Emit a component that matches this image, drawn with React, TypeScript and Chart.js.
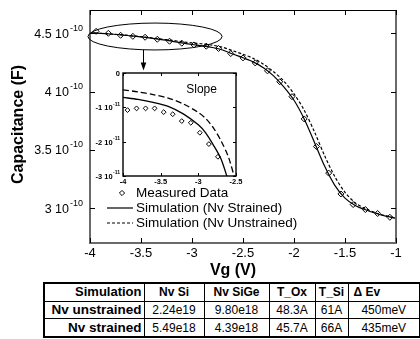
import React, { useEffect, useRef } from "react";
import { Chart, registerables } from "chart.js";

Chart.register(...registerables);

const FONT = "'Liberation Sans', Arial, Helvetica, sans-serif";

// ---------- Main chart data (capacitance in units of 1e-10 F) ----------
const measuredVg = [-3.94, -3.82, -3.7, -3.58, -3.46, -3.34, -3.22, -3.1, -2.98, -2.86, -2.74, -2.62, -2.5, -2.38, -2.26, -2.14, -2.02, -1.9, -1.78, -1.66, -1.54, -1.42, -1.3, -1.18, -1.06];
const measuredC = [4.517, 4.5, 4.483, 4.474, 4.466, 4.449, 4.432, 4.415, 4.4, 4.389, 4.37, 4.326, 4.289, 4.246, 4.178, 4.084, 3.956, 3.765, 3.528, 3.3, 3.121, 3.03, 2.987, 2.953, 2.921];

const simVg = [-4.0, -3.9, -3.8, -3.7, -3.6, -3.5, -3.4, -3.3, -3.2, -3.1, -3.0, -2.9, -2.8, -2.7, -2.6, -2.5, -2.4, -2.3, -2.2, -2.1, -2.0, -1.9, -1.8, -1.7, -1.6, -1.5, -1.4, -1.3, -1.2, -1.1, -1.0];
const strainedC = [4.505, 4.5, 4.494, 4.487, 4.478, 4.469, 4.458, 4.446, 4.433, 4.418, 4.404, 4.392, 4.378, 4.357, 4.322, 4.29, 4.255, 4.205, 4.135, 4.04, 3.925, 3.765, 3.565, 3.36, 3.195, 3.085, 3.022, 2.985, 2.955, 2.93, 2.912];
const unstrainedC = [4.505, 4.5, 4.494, 4.488, 4.479, 4.471, 4.461, 4.45, 4.44, 4.428, 4.418, 4.41, 4.398, 4.38, 4.35, 4.32, 4.285, 4.235, 4.17, 4.09, 3.98, 3.84, 3.655, 3.45, 3.27, 3.135, 3.045, 2.995, 2.96, 2.933, 2.913];

const xTicks = [-4, -3.5, -3, -2.5, -2, -1.5, -1];
const xTickLabels = ["-4", "-3.5", "-3", "-2.5", "-2", "-1.5", "-1"];
const yTicks = [3, 3.5, 4, 4.5];
const yTickBase = ["3 10", "3.5 10", "4 10", "4.5 10"];
const yTickExp = "-10";

const legendLabels = ["Measured Data", "Simulation (Nv Strained)", "Simulation (Nv Unstrained)"];

// ellipse annotation (data coords) + arrow
const ellipseVg = [-4.02, -2.705];
const ellipseC = [4.357, 4.588];
const arrowVg = -3.48;
const arrowC = [4.357, 4.18];

// ---------- Inset (slope, units of 1e-11) ----------
const insetMeasVg = [-3.94, -3.82, -3.7, -3.58, -3.46, -3.34, -3.22, -3.1, -2.98, -2.86, -2.74];
const insetMeasSlope = [-1.08, -1.03, -1.03, -1.03, -1.14, -1.2, -1.4, -1.45, -1.74, -2.07, -2.44];
const insetStrainedVg = [-4.0, -3.8, -3.6, -3.4, -3.2, -3.0, -2.9, -2.8, -2.7, -2.6];
const insetStrained = [-0.71, -0.77, -0.855, -0.97, -1.19, -1.51, -1.75, -2.1, -2.5, -3.15];
const insetUnstrainedVg = [-4.0, -3.8, -3.6, -3.4, -3.2, -3.0, -2.9, -2.8, -2.7, -2.6, -2.5];
const insetUnstrained = [-0.49, -0.55, -0.63, -0.73, -0.9, -1.15, -1.33, -1.6, -1.97, -2.45, -3.2];

const insetXTicks = [-4, -3.5, -3, -2.5];
const insetXTickLabels = ["-4", "-3.5", "-3", "-2.5"];
const insetYTicks = [0, -1, -2, -3];
const insetYTickBase = ["0", "-1 10", "-2 10", "-3 10"];
const insetYTickExp = ["", "-11", "-11", "-11"];
const insetTitle = "Slope";

// ---------- Table ----------
const tableHeader = ["Simulation", "Nv Si", "Nv SiGe", "T_Ox", "T_Si", "\u0394 Ev"];
const tableRows = [
  ["Nv unstrained", "2.24e19", "9.80e18", "48.3A", "61A", "450meV"],
  ["Nv strained", "5.49e18", "4.39e18", "45.7A", "66A", "435meV"],
];
const tableColWidths = [100, 60, 65, 46, 33, 72];

function line(ctx: CanvasRenderingContext2D, x1: number, y1: number, x2: number, y2: number) {
  ctx.beginPath();
  ctx.moveTo(x1, y1);
  ctx.lineTo(x2, y2);
  ctx.stroke();
}

function drawDiamond(ctx: CanvasRenderingContext2D, x: number, y: number, r: number) {
  ctx.beginPath();
  ctx.moveTo(x, y - r);
  ctx.lineTo(x + r, y);
  ctx.lineTo(x, y + r);
  ctx.lineTo(x - r, y);
  ctx.closePath();
  ctx.stroke();
}

const mainPlugin = {
  id: "mainDecor",
  afterDraw(chart: any) {
    const ctx: CanvasRenderingContext2D = chart.ctx;
    const xs = chart.scales.x;
    const ys = chart.scales.y;
    const { left, right, top, bottom } = chart.chartArea;
    ctx.save();
    // frame
    ctx.strokeStyle = "#6a6a6a";
    ctx.lineWidth = 2;
    ctx.beginPath();
    ctx.moveTo(left, top);
    ctx.lineTo(left, bottom);
    ctx.lineTo(right, bottom);
    ctx.lineTo(right, top);
    ctx.stroke();
    ctx.strokeStyle = "#000";
    ctx.lineWidth = 1;
    line(ctx, left, top + 0.5, right, top + 0.5);
    // ticks (inward)
    ctx.strokeStyle = "#000";
    ctx.lineWidth = 1;
    xTicks.forEach((v) => {
      const px = Math.round(xs.getPixelForValue(v)) + 0.5;
      line(ctx, px, bottom, px, bottom - 5);
      line(ctx, px, top, px, top + 5);
    });
    yTicks.forEach((v) => {
      const py = Math.round(ys.getPixelForValue(v)) + 0.5;
      line(ctx, left, py, left + 5, py);
      line(ctx, right, py, right - 5, py);
    });
    // x tick labels
    ctx.fillStyle = "#000";
    ctx.font = `13px ${FONT}`;
    ctx.textAlign = "center";
    ctx.textBaseline = "middle";
    xTicks.forEach((v, i) => {
      ctx.fillText(xTickLabels[i], xs.getPixelForValue(v), bottom + 10);
    });
    // y tick labels with superscript
    yTicks.forEach((v, i) => {
      const py = ys.getPixelForValue(v);
      const xr = left - 7;
      ctx.font = `9px ${FONT}`;
      ctx.textAlign = "right";
      ctx.textBaseline = "middle";
      const ew = ctx.measureText(yTickExp).width;
      ctx.fillText(yTickExp, xr, py - 5);
      ctx.font = `12.5px ${FONT}`;
      ctx.fillText(yTickBase[i], xr - ew - 1, py + 1);
    });
    // axis titles
    ctx.font = `bold 16px ${FONT}`;
    ctx.textAlign = "center";
    ctx.textBaseline = "middle";
    ctx.fillText("Vg (V)", (left + right) / 2 - 10, bottom + 28);
    ctx.save();
    ctx.translate(19, (top + bottom) / 2 - 2);
    ctx.rotate(-Math.PI / 2);
    ctx.fillText("Capacitance (F)", 0, 0);
    ctx.restore();

    // ellipse annotation
    const ex1 = xs.getPixelForValue(ellipseVg[0]);
    const ex2 = xs.getPixelForValue(ellipseVg[1]);
    const ey1 = ys.getPixelForValue(ellipseC[1]);
    const ey2 = ys.getPixelForValue(ellipseC[0]);
    ctx.strokeStyle = "#000";
    ctx.lineWidth = 1;
    ctx.beginPath();
    ctx.ellipse((ex1 + ex2) / 2, (ey1 + ey2) / 2, (ex2 - ex1) / 2, (ey2 - ey1) / 2, 0, 0, Math.PI * 2);
    ctx.stroke();
    // arrow
    const ax = Math.round(xs.getPixelForValue(arrowVg)) + 0.5;
    const ay1 = ys.getPixelForValue(arrowC[0]);
    const ay2 = ys.getPixelForValue(arrowC[1]);
    line(ctx, ax, ay1, ax, ay2 - 6);
    ctx.fillStyle = "#000";
    ctx.beginPath();
    ctx.moveTo(ax, ay2);
    ctx.lineTo(ax - 2.8, ay2 - 8);
    ctx.lineTo(ax + 2.8, ay2 - 8);
    ctx.closePath();
    ctx.fill();

    // legend
    const lx = left + 17;
    const ly = [193, 208, 223];
    ctx.lineWidth = 1;
    drawDiamond(ctx, lx + 15, ly[0], 2.6);
    ctx.lineWidth = 1.2;
    line(ctx, lx, ly[1], lx + 26, ly[1]);
    ctx.setLineDash([3, 2]);
    line(ctx, lx, ly[2], lx + 26, ly[2]);
    ctx.setLineDash([]);
    ctx.font = `13.5px ${FONT}`;
    ctx.textAlign = "left";
    ctx.textBaseline = "middle";
    ctx.fillStyle = "#000";
    legendLabels.forEach((t, i) => ctx.fillText(t, lx + 29, ly[i] + 0.5));
    ctx.restore();
  },
};

const insetPlugin = {
  id: "insetDecor",
  beforeDraw(chart: any) {
    const ctx: CanvasRenderingContext2D = chart.ctx;
    const { left, right, top, bottom } = chart.chartArea;
    ctx.save();
    ctx.fillStyle = "#fff";
    ctx.fillRect(left, top, right - left, bottom - top);
    ctx.restore();
  },
  afterDraw(chart: any) {
    const ctx: CanvasRenderingContext2D = chart.ctx;
    const xs = chart.scales.x;
    const ys = chart.scales.y;
    const { left, right, top, bottom } = chart.chartArea;
    ctx.save();
    ctx.strokeStyle = "#000";
    ctx.lineWidth = 1.4;
    ctx.strokeRect(left, top, right - left, bottom - top);
    ctx.lineWidth = 1;
    insetXTicks.forEach((v) => {
      const px = Math.round(xs.getPixelForValue(v)) + 0.5;
      line(ctx, px, bottom, px, bottom - 3);
      line(ctx, px, top, px, top + 3);
    });
    insetYTicks.forEach((v) => {
      const py = Math.round(ys.getPixelForValue(v)) + 0.5;
      line(ctx, left, py, left + 3, py);
      line(ctx, right, py, right - 3, py);
    });
    ctx.fillStyle = "#000";
    ctx.font = `bold 7.5px ${FONT}`;
    ctx.textAlign = "center";
    ctx.textBaseline = "middle";
    insetXTicks.forEach((v, i) => {
      ctx.fillText(insetXTickLabels[i], xs.getPixelForValue(v), bottom + 6);
    });
    insetYTicks.forEach((v, i) => {
      const py = ys.getPixelForValue(v);
      const xr = left - 3;
      ctx.textAlign = "right";
      ctx.font = `bold 5px ${FONT}`;
      const exp = insetYTickExp[i];
      const ew = exp ? ctx.measureText(exp).width + 0.5 : 0;
      if (exp) ctx.fillText(exp, xr, py - 3);
      ctx.font = `bold 7.5px ${FONT}`;
      ctx.fillText(insetYTickBase[i], xr - ew, py + 1);
    });
    ctx.font = `12px ${FONT}`;
    ctx.textAlign = "left";
    ctx.fillText(insetTitle, xs.getPixelForValue(-3.16), ys.getPixelForValue(-0.5));
    ctx.restore();
  },
};

export default function App() {
  const mainRef = useRef<HTMLCanvasElement>(null);
  const insetRef = useRef<HTMLCanvasElement>(null);

  useEffect(() => {
    const main = new Chart(mainRef.current!, {
      type: "scatter",
      data: {
        datasets: [
          {
            label: legendLabels[0],
            data: measuredVg.map((x, i) => ({ x, y: measuredC[i] })),
            showLine: false,
            pointStyle: "rectRot",
            pointRadius: 3,
            borderColor: "#000",
            backgroundColor: "rgba(0,0,0,0)",
            borderWidth: 1,
          },
          {
            label: legendLabels[1],
            data: simVg.map((x, i) => ({ x, y: strainedC[i] })),
            showLine: true,
            pointRadius: 0,
            borderColor: "#000",
            borderWidth: 1.2,
            tension: 0.3,
          },
          {
            label: legendLabels[2],
            data: simVg.map((x, i) => ({ x, y: unstrainedC[i] })),
            showLine: true,
            pointRadius: 0,
            borderColor: "#000",
            borderWidth: 1.2,
            borderDash: [3, 2],
            tension: 0.3,
          },
        ],
      },
      options: {
        animation: false,
        responsive: false,
        devicePixelRatio: 1,
        layout: { padding: { left: 90, right: 24, top: 10, bottom: 37 } },
        plugins: { legend: { display: false }, tooltip: { enabled: false } },
        scales: {
          x: { type: "linear", min: -4, max: -1, display: false },
          y: { type: "linear", min: 2.7, max: 4.7, display: false },
        },
      },
      plugins: [mainPlugin],
    });

    const inset = new Chart(insetRef.current!, {
      type: "scatter",
      data: {
        datasets: [
          {
            data: insetMeasVg.map((x, i) => ({ x, y: insetMeasSlope[i] })),
            showLine: false,
            pointStyle: "rectRot",
            pointRadius: 2.4,
            borderColor: "#000",
            backgroundColor: "rgba(0,0,0,0)",
            borderWidth: 1,
          },
          {
            data: insetStrainedVg.map((x, i) => ({ x, y: insetStrained[i] })),
            showLine: true,
            pointRadius: 0,
            borderColor: "#000",
            borderWidth: 1.3,
            tension: 0.3,
          },
          {
            data: insetUnstrainedVg.map((x, i) => ({ x, y: insetUnstrained[i] })),
            showLine: true,
            pointRadius: 0,
            borderColor: "#000",
            borderWidth: 1.3,
            borderDash: [6, 3],
            tension: 0.3,
          },
        ],
      },
      options: {
        animation: false,
        responsive: false,
        devicePixelRatio: 1,
        layout: { padding: { left: 38, right: 9, top: 11, bottom: 12 } },
        plugins: { legend: { display: false }, tooltip: { enabled: false } },
        scales: {
          x: { type: "linear", min: -4, max: -2.5, display: false },
          y: { type: "linear", min: -3, max: 0, display: false },
        },
      },
      plugins: [insetPlugin],
    });

    return () => {
      main.destroy();
      inset.destroy();
    };
  }, []);

  const cellBorder = "1px solid #000";
  return (
    <div style={{ position: "absolute", left: 0, top: 0, width: 420, height: 339, background: "#fff" }}>
      <canvas ref={mainRef} width={420} height={280} style={{ position: "absolute", left: 0, top: 0, width: 420, height: 280 }} />
      <canvas ref={insetRef} width={160} height={126} style={{ position: "absolute", left: 85, top: 62, width: 160, height: 126 }} />
      <table
        style={{
          position: "absolute",
          left: 43,
          top: 282,
          width: 376,
          height: 56,
          borderCollapse: "collapse",
          tableLayout: "fixed",
          border: "2px solid #000",
          fontFamily: FONT,
          fontSize: 12,
          color: "#000",
        }}
      >
        <colgroup>
          {tableColWidths.map((w, i) => (
            <col key={i} style={{ width: w }} />
          ))}
        </colgroup>
        <tbody>
          <tr>
            {tableHeader.map((h, i) => (
              <td
                key={i}
                style={{
                  border: cellBorder,
                  fontWeight: "bold",
                  fontSize: i === 0 ? 13 : 12,
                  textAlign: i === 0 ? "right" : i === 5 ? "left" : "center",
                  padding: i === 0 ? "0 2px 0 0" : i === 5 ? "0 0 0 5px" : 0,
                  lineHeight: "16px",
                  whiteSpace: "nowrap",
                }}
              >
                {h}
              </td>
            ))}
          </tr>
          {tableRows.map((r, ri) => (
            <tr key={ri}>
              {r.map((c, i) => (
                <td
                  key={i}
                  style={{
                    border: cellBorder,
                    fontWeight: i === 0 ? "bold" : "normal",
                    fontSize: i === 0 ? 13.5 : 12,
                    textAlign: i === 0 ? "right" : "center",
                    padding: i === 0 ? "0 2px 0 0" : 0,
                    lineHeight: "16px",
                    whiteSpace: "nowrap",
                  }}
                >
                  {c}
                </td>
              ))}
            </tr>
          ))}
        </tbody>
      </table>
    </div>
  );
}
